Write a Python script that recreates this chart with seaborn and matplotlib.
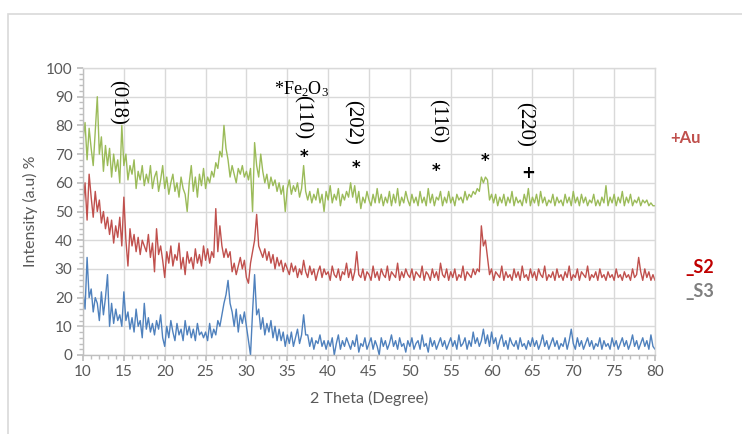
import numpy as np
import pandas as pd
import matplotlib
matplotlib.use("Agg")
import matplotlib.pyplot as plt
from matplotlib.patches import Rectangle
from matplotlib.ticker import MultipleLocator
import seaborn as sns

# 2-theta sampling: 10 to 80 in 0.25 degree steps (rows of 20 values = 5 degrees)
au_values = [
    75, 81, 68, 79, 72, 66, 78, 90, 70, 76, 64, 73, 66, 72, 62, 70, 64, 68, 60, 80,
    66, 70, 61, 66, 63, 68, 58, 64, 61, 66, 59, 63, 60, 66, 58, 62, 64, 57, 61, 66,
    58, 62, 56, 60, 63, 57, 60, 55, 62, 58, 56, 50, 60, 66, 57, 62, 55, 63, 59, 65,
    58, 62, 60, 64, 62, 67, 65, 71, 69, 80, 72, 68, 62, 66, 63, 60, 65, 63, 66, 62,
    64, 61, 65, 50, 74, 66, 62, 70, 64, 60, 63, 58, 62, 59, 61, 57, 60, 56, 59, 50,
    58, 61, 56, 59, 57, 60, 55, 58, 66, 57, 54, 57, 53, 56, 54, 58, 53, 56, 50, 57,
    54, 59, 53, 56, 54, 58, 52, 56, 54, 57, 55, 60, 55, 59, 53, 57, 51, 55, 53, 57,
    54, 52, 56, 53, 58, 53, 56, 52, 55, 53, 57, 52, 56, 53, 58, 52, 55, 53, 57, 54,
    52, 56, 53, 55, 52, 57, 53, 55, 52, 58, 53, 56, 52, 55, 54, 57, 52, 55, 53, 57,
    53, 55, 52, 56, 54, 55, 53, 57, 54, 56, 55, 57, 56, 58, 57, 62, 60, 62, 61, 54,
    56, 53, 56, 52, 55, 53, 56, 52, 55, 53, 57, 52, 55, 53, 54, 52, 56, 53, 58, 52,
    55, 53, 56, 52, 57, 53, 55, 52, 54, 53, 56, 52, 55, 53, 54, 52, 56, 53, 55, 52,
    57, 53, 55, 52, 56, 53, 55, 52, 54, 53, 56, 52, 54, 52, 55, 53, 59, 52, 55, 53,
    56, 52, 55, 53, 57, 52, 55, 53, 56, 52, 54, 53, 55, 52, 54, 53, 54, 52, 53, 52,
    52,
]
s2_values = [
    52, 60, 47, 63, 55, 48, 57, 50, 54, 46, 50, 44, 48, 42, 47, 39, 45, 41, 48, 38,
    55, 40, 31, 44, 38, 42, 36, 41, 35, 40, 38, 36, 42, 34, 39, 29, 44, 35, 38, 33,
    27, 36, 32, 38, 31, 35, 33, 39, 30, 34, 28, 36, 32, 34, 30, 37, 32, 35, 31, 38,
    33, 37, 32, 36, 34, 51, 36, 45, 38, 34, 37, 34, 36, 29, 32, 28, 31, 34, 30, 33,
    27, 25, 32, 36, 40, 49, 38, 36, 34, 37, 33, 36, 32, 35, 30, 34, 31, 33, 29, 32,
    30, 28, 32, 29, 31, 27, 30, 28, 33, 29, 27, 31, 28, 30, 26, 29, 31, 27, 30, 28,
    29, 26, 31, 28, 27, 30, 26, 29, 28, 32, 27, 30, 26, 29, 36, 28, 27, 30, 26, 29,
    28, 26, 31, 27, 29, 26, 30, 28, 27, 31, 26, 29, 28, 27, 32, 26, 29, 27, 30, 28,
    27, 30, 26, 29, 28, 27, 31, 26, 29, 28, 26, 30, 27, 29, 26, 32, 28, 27, 30, 26,
    29, 27, 30, 26, 28, 27, 31, 26, 29, 28, 27, 30, 28, 30, 29, 45, 38, 40, 34, 28,
    30, 26, 29, 28, 27, 31, 26, 29, 27, 28, 26, 30, 27, 29, 26, 31, 27, 28, 26, 30,
    27, 29, 26, 30, 28, 27, 31, 26, 28, 27, 29, 26, 30, 27, 28, 26, 29, 27, 31, 26,
    28, 27, 30, 26, 29, 28, 27, 31, 26, 28, 27, 29, 26, 30, 27, 28, 26, 29, 27, 28,
    26, 30, 27, 28, 26, 29, 27, 28, 26, 30, 27, 28, 34, 29, 26, 30, 27, 29, 26, 28,
    26,
]
s3_values = [
    22, 16, 34, 20, 23, 15, 20, 18, 12, 22, 14, 20, 28, 10, 18, 11, 16, 12, 14, 10,
    22, 12, 15, 9, 13, 8, 16, 10, 12, 6, 18, 9, 13, 8, 11, 7, 12, 9, 14, 6,
    3, 10, 6, 12, 8, 5, 11, 7, 9, 5, 12, 7, 10, 6, 9, 5, 11, 7, 8, 6,
    8, 5, 11, 6, 9, 7, 12, 10, 14, 18, 21, 26, 18, 15, 10, 16, 8, 14, 11, 15,
    10, 5, 0, 15, 28, 14, 16, 9, 13, 7, 11, 8, 12, 6, 10, 5, 9, 5, 8, 3,
    7, 4, 8, 3, 6, 9, 4, 7, 14, 7, 7, 3, 6, 2, 5, 4, 7, 3, 5, 2,
    5, 3, 6, 0, 4, 7, 2, 5, 3, 6, 4, 2, 5, 3, 7, 1, 4, 3, 6, 2,
    4, 6, 2, 5, 3, 0, 6, 3, 5, 2, 4, 7, 3, 5, 2, 6, 3, 4, 1, 5,
    3, 6, 2, 4, 5, 2, 7, 3, 4, 1, 6, 3, 5, 2, 4, 6, 3, 5, 2, 4,
    6, 3, 5, 2, 7, 3, 4, 6, 2, 5, 3, 8, 4, 6, 3, 5, 9, 4, 7, 3,
    8, 4, 6, 2, 5, 7, 3, 5, 2, 6, 4, 3, 5, 2, 6, 3, 4, 2, 5, 3,
    6, 3, 5, 2, 4, 7, 3, 5, 2, 4, 6, 3, 5, 2, 4, 3, 6, 2, 5, 9,
    4, 2, 6, 3, 5, 2, 4, 6, 3, 5, 2, 4, 3, 6, 2, 5, 3, 4, 2, 6,
    3, 5, 2, 4, 6, 3, 5, 2, 4, 7, 3, 5, 2, 4, 6, 3, 5, 2, 7, 3,
    2,
]
two_theta = np.linspace(10, 80, len(au_values))

series_names = ["+Au", "S2", "S3"]
series_colors = {"+Au": "#9BBB59", "S2": "#C0504D", "S3": "#4F81BD"}

peak_labels = ["(018)", "(110)", "(202)", "(116)", "(220)"]
peak_label_x = [14.2, 36.8, 43.0, 53.3, 64.0]
peak_label_y = [88.0, 82.8, 81.0, 81.5, 80.5]
marker_text = ["*", "*", "*", "*", "+"]
marker_x = [37.0, 43.4, 53.2, 59.2, 64.5]
marker_y = [69.0, 65.0, 64.0, 67.5, 63.5]

x_ticks = list(range(10, 81, 5))
y_ticks = list(range(0, 101, 10))

frames = []
for name, vals in zip(series_names, [au_values, s2_values, s3_values]):
    frames.append(pd.DataFrame({"two_theta": two_theta, "intensity": vals, "sample": name}))
df = pd.concat(frames, ignore_index=True)

sns.set_theme(style="white")
plt.rcParams["font.family"] = ["Lato", "DejaVu Sans"]
plt.rcParams["mathtext.fontset"] = "custom"
plt.rcParams["mathtext.rm"] = "Liberation Serif"
plt.rcParams["mathtext.it"] = "Liberation Serif"

fig = plt.figure(figsize=(7.42, 4.34), dpi=100)
ax = fig.add_axes([83 / 742, 1 - 355 / 434, (655 - 83) / 742, (355 - 68) / 434])

# outer chart frame
fig.patches.append(Rectangle((8 / 742, -0.1), 1.2, 1 - 14 / 434 + 0.1,
                             transform=fig.transFigure, fill=False,
                             edgecolor="#D9D9D9", linewidth=1.2, zorder=0))

for name in ["S3", "S2", "+Au"]:
    sub = df[df["sample"] == name]
    sns.lineplot(data=sub, x="two_theta", y="intensity", ax=ax,
                 color=series_colors[name], linewidth=1.0, legend=False,
                 estimator=None, sort=False)

ax.set_xlim(10, 80)
ax.set_ylim(0, 100)
ax.set_xticks(x_ticks)
ax.set_yticks(y_ticks)
ax.xaxis.set_minor_locator(MultipleLocator(1))
ax.yaxis.set_minor_locator(MultipleLocator(2))
ax.grid(True, which="major", color="#D9D9D9", linewidth=1.0)
ax.set_axisbelow(True)
for sp in ax.spines.values():
    sp.set_color("#D9D9D9")
    sp.set_linewidth(1.0)
ax.spines["left"].set_color("#BFBFBF")
ax.spines["bottom"].set_color("#BFBFBF")
ax.tick_params(axis="both", which="major", length=4, color="#BFBFBF",
               labelsize=11, labelcolor="#595959", direction="out")
ax.tick_params(axis="both", which="minor", length=3, color="#BFBFBF",
               direction="out")
ax.tick_params(axis="y", which="both", left=True)
ax.tick_params(axis="x", which="both", bottom=True)

ax.set_xlabel("2 Theta (Degree)", fontsize=11.5, color="#595959", labelpad=8)
ax.set_ylabel("Intensity (a.u) %", fontsize=11.5, color="#595959", labelpad=6)

serif = ["Liberation Serif", "DejaVu Serif"]
for lab, xx, yy in zip(peak_labels, peak_label_x, peak_label_y):
    ax.text(xx, yy, lab, rotation=270, ha="center", va="center",
            fontsize=15, family=serif, color="black")
ax.text(36.7, 92.5, r"*Fe$_2$O$_3$", ha="center", va="center",
        fontsize=13, family=serif, color="black")
for t, xx, yy in zip(marker_text, marker_x, marker_y):
    ax.text(xx, yy, t, ha="center", va="center", fontsize=12,
            fontweight="bold", color="black", family=["DejaVu Sans"])

fig.text(670 / 742, 1 - 138 / 434, "+Au", fontsize=12, fontweight="bold",
         color="#C0504D", ha="left", va="center")
fig.text(685 / 742, 1 - 268 / 434, "_S2", fontsize=13, fontweight="bold",
         color="#C00000", ha="left", va="center")
fig.text(685 / 742, 1 - 292 / 434, "_S3", fontsize=13, fontweight="bold",
         color="#7F7F7F", ha="left", va="center")

fig.savefig("out.png", dpi=100)
